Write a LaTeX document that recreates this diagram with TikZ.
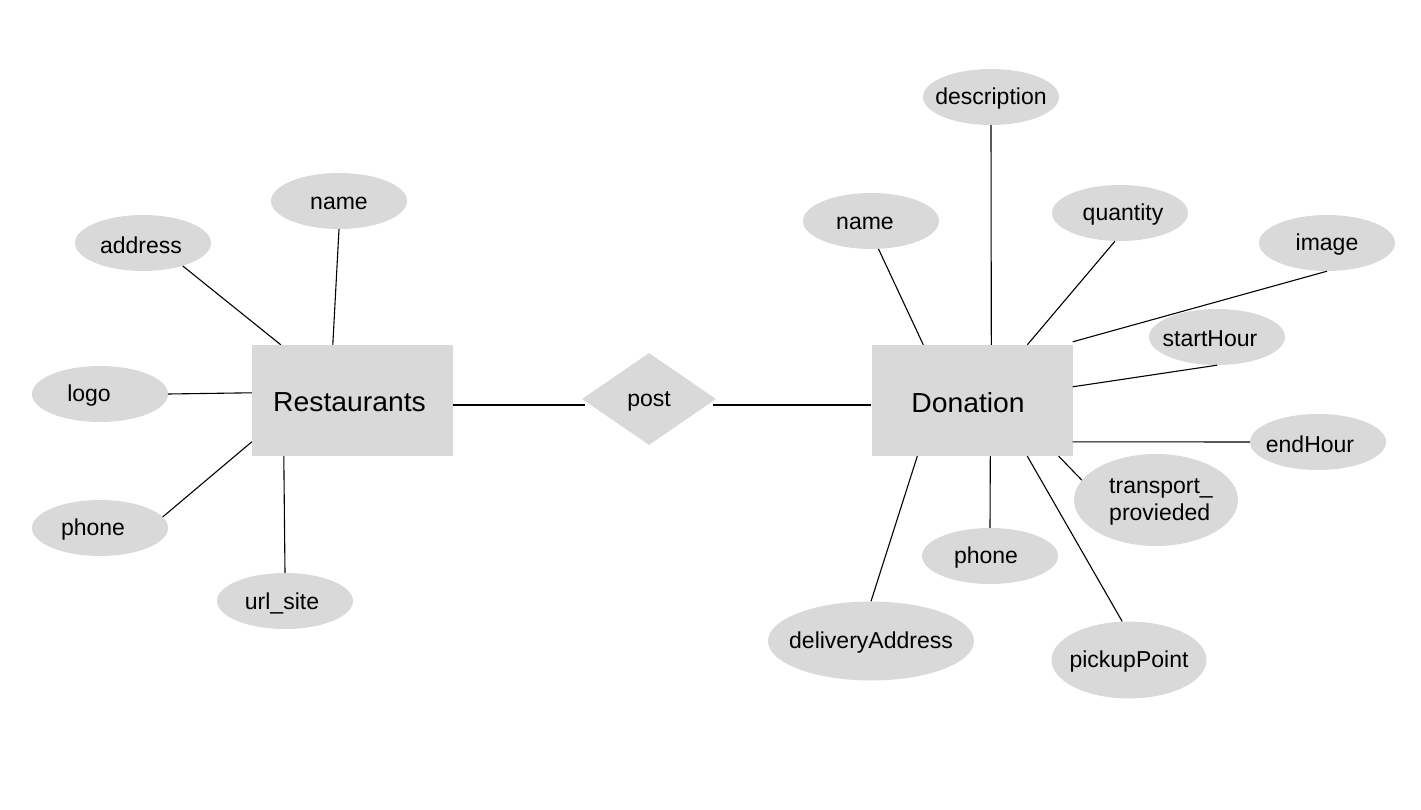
\documentclass[tikz,border=0pt]{standalone}
\usepackage{fontspec}
\setmainfont{Liberation Sans}
\newfontfamily\entfont{Liberation Sans}[FakeStretch=1.03]
\usetikzlibrary{shapes.geometric,calc}
\definecolor{shapegray}{HTML}{D9D9D9}
% zero-width text, shifted horizontally by the optional argument and lowered slightly
\newcommand{\fixw}[2][0pt]{\makebox[0pt]{\hspace*{#1}\hspace*{#1}\raisebox{-2pt}[\height][\depth]{#2}}}
\tikzset{
  attr/.style={ellipse, fill=shapegray, inner sep=0pt, minimum width=136pt, minimum height=56pt, font=\fontsize{23}{27}\selectfont},
  entity/.style={rectangle, fill=shapegray, inner sep=0pt, minimum width=201pt, minimum height=111pt, font=\entfont\fontsize{27.5}{30}\selectfont},
  rel/.style={diamond, fill=shapegray, inner sep=0pt, minimum width=134pt, minimum height=92pt, font=\fontsize{23}{27}\selectfont},
  link/.style={draw=black, line width=1.1pt}
}
\begin{document}
\begin{tikzpicture}[x=1pt,y=-1pt]
\useasboundingbox (0,0) rectangle (1421,810);
% entities
\node[entity] (rest) at (352.5,400.5) {\fixw[-3pt]{Restaurants}};
\node[entity] (don) at (972,400.5) {\fixw[-4pt]{Donation}};
\node[rel] (post) at (649,399) {\fixw{post}};
% Restaurants attributes
\node[attr] (rname) at (339,201) {\fixw{name}};
\node[attr] (raddr) at (143,243) {\fixw[-2pt]{address}};
\node[attr] (rlogo) at (100,394) {\fixw[-11pt]{logo}};
\node[attr] (rphone) at (100,528) {\fixw[-7pt]{phone}};
\node[attr] (rurl) at (285,601) {\fixw[-3pt]{url\_site}};
% Donation attributes
\node[attr] (ddesc) at (991,97) {\fixw{description}};
\node[attr] (dname) at (871,221) {\fixw[-6pt]{name}};
\node[attr] (dquant) at (1120,213) {\fixw[3pt]{quantity}};
\node[attr] (dimage) at (1327,243) {\fixw{image}};
\node[attr] (dstart) at (1217,337) {\fixw[-7pt]{startHour}};
\node[attr] (dend) at (1318,442) {\fixw[-8pt]{endHour}};
\node[attr, minimum width=164pt, minimum height=92pt] (dtrans) at (1156,500) {\fixw[5pt]{\begin{tabular}{@{}l@{}}transport\_\\provieded\end{tabular}}};
\node[attr] (dphone) at (990,556) {\fixw[-4pt]{phone}};
\node[attr, minimum width=206pt, minimum height=79pt] (ddeliv) at (871,641) {\fixw{deliveryAddress}};
\node[attr, minimum width=155pt, minimum height=77pt] (dpick) at (1129,660) {\fixw{pickupPoint}};
% relationship links
\draw[link] ($(rest.east)+(0,4.5)$) -- ($(post.west)+(3,6)$);
\draw[link] ($(post.east)+(-3,6)$) -- ($(don.west)+(0,4.5)$);
% Restaurants links
\draw[link] (rname.south) -- ($(rest.north west)+(81,0)$);
\draw[link] (raddr.-30) -- ($(rest.north west)+(29,0)$);
\draw[link] (rlogo.east) -- ($(rest.north west)+(0,48)$);
\draw[link] (rphone.10) -- ($(rest.north west)+(0,97)$);
\draw[link] (rurl.north) -- ($(rest.south west)+(32,0)$);
% Donation links
\draw[link] (ddesc.south) -- ($(don.north west)+(120,0)$);
\draw[link] (dname.-75) -- ($(don.north west)+(52,0)$);
\draw[link] (dquant.-100) -- ($(don.north west)+(156,0)$);
\draw[link] (dimage.south) -- ($(don.north east)+(0,-3)$);
\draw[link] (dstart.south) -- ($(don.north east)+(0,42)$);
\draw[link] (dend.west) -- ($(don.north east)+(0,97)$);
\draw[link] (dtrans.165) -- ($(don.south east)+(-14,0)$);
\draw[link] (dphone.north) -- ($(don.south west)+(119,0)$);
\draw[link] (ddeliv.north) -- ($(don.south west)+(46,0)$);
\draw[link] (dpick.100) -- ($(don.south west)+(156,0)$);
\end{tikzpicture}
\end{document}
